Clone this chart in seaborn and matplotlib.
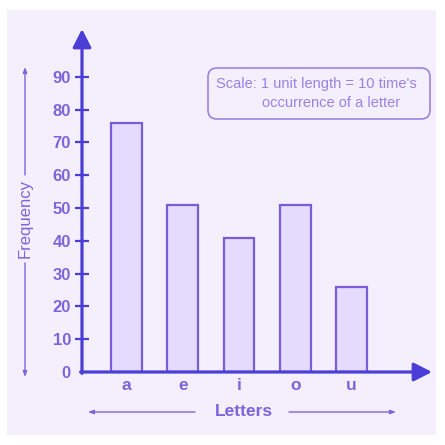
import matplotlib
matplotlib.use("Agg")
import matplotlib.pyplot as plt
from matplotlib.patches import Rectangle, FancyBboxPatch
import seaborn as sns

# data
letters = ["a", "e", "i", "o", "u"]
frequency = [76, 51, 41, 51, 26]
y_ticks = [0, 10, 20, 30, 40, 50, 60, 70, 80, 90]
y_tick_labels = ["0", "10", "20", "30", "40", "50", "60", "70", "80", "90"]

# colours
bg = "#f4effd"
axis_col = "#4a3ed6"
bar_fill = "#e5dbfc"
bar_edge = "#7a5cd8"
text_col = "#7c65da"
note_col = "#9a82e2"

sns.set_theme(style="white")
plt.rcParams["font.family"] = ["Liberation Sans", "DejaVu Sans"]

W = 445.0
def fx(px):
    return px / W
def fy(py):
    return 1 - py / W

fig = plt.figure(figsize=(4.45, 4.45), dpi=100)
fig.patch.set_facecolor("white")
fig.patches.append(Rectangle((fx(7), fy(435)), fx(436) - fx(7), fy(10) - fy(435),
                             transform=fig.transFigure, facecolor=bg,
                             edgecolor="none", zorder=-10))

ax = fig.add_axes([fx(82), fy(372), fx(432) - fx(82), fy(29) - fy(372)])
ax.set_facecolor("none")
ax.set_zorder(2)

sns.barplot(x=letters, y=frequency, ax=ax, width=0.55, color=bar_fill,
            saturation=1, edgecolor=bar_edge, linewidth=1.6)

ax.set_xlim(-0.79, 5.43)
ax.set_ylim(0, 104.6)
for s in ax.spines.values():
    s.set_visible(False)

# axis arrows
arrow = dict(arrowstyle="-|>,head_length=0.55,head_width=0.28", color=axis_col,
             lw=2.3, mutation_scale=20, shrinkA=0, shrinkB=0)
ax.annotate("", xy=(1, 0), xytext=(-0.004, 0), xycoords="axes fraction",
            arrowprops=arrow, annotation_clip=False)
ax.annotate("", xy=(0, 1), xytext=(0, -0.004), xycoords="axes fraction",
            arrowprops=arrow, annotation_clip=False)

ax.set_yticks(y_ticks)
ax.set_yticklabels(y_tick_labels)
ax.tick_params(axis="y", direction="inout", length=10, width=1.6, color=axis_col,
               pad=3, labelsize=12, labelcolor=text_col, left=True)
ax.yaxis.get_major_ticks()[0].tick1line.set_visible(False)
ax.tick_params(axis="x", length=0, pad=4, labelsize=12.5, labelcolor=text_col)
for lab in ax.get_xticklabels() + ax.get_yticklabels():
    lab.set_fontweight("bold")
ax.set_xlabel("")
ax.set_ylabel("")

# side labels with arrows
side = dict(arrowstyle="-|>,head_length=0.4,head_width=0.15", color=text_col,
            lw=1.0, mutation_scale=8, shrinkA=0, shrinkB=0)
fig.text(fx(25), fy(219), "Frequency", rotation=90, ha="center", va="center",
         fontsize=12, color=text_col)
ax.annotate("", xy=(fx(25), fy(67)), xytext=(fx(25), fy(175)),
            xycoords="figure fraction", arrowprops=side, annotation_clip=False)
ax.annotate("", xy=(fx(25), fy(377)), xytext=(fx(25), fy(263)),
            xycoords="figure fraction", arrowprops=side, annotation_clip=False)

fig.text(fx(244), fy(412), "Letters", ha="center", va="center",
         fontsize=12.5, fontweight="bold", color=text_col)
ax.annotate("", xy=(fx(88), fy(412)), xytext=(fx(195), fy(412)),
            xycoords="figure fraction", arrowprops=side, annotation_clip=False)
ax.annotate("", xy=(fx(396), fy(412)), xytext=(fx(289), fy(412)),
            xycoords="figure fraction", arrowprops=side, annotation_clip=False)

# scale note
fig.patches.append(FancyBboxPatch((fx(208), fy(119)), fx(430) - fx(208), fy(68) - fy(119),
                                  boxstyle="round,pad=0,rounding_size=0.02",
                                  transform=fig.transFigure, facecolor="none",
                                  edgecolor=note_col, lw=1.2, zorder=3))
fig.text(fx(216), fy(84), "Scale: 1 unit length = 10 time's", ha="left", va="center",
         fontsize=10.5, color=note_col)
fig.text(fx(262), fy(103), "occurrence of a letter", ha="left", va="center",
         fontsize=10.5, color=note_col)

fig.savefig("out.png", dpi=100, facecolor="white")
